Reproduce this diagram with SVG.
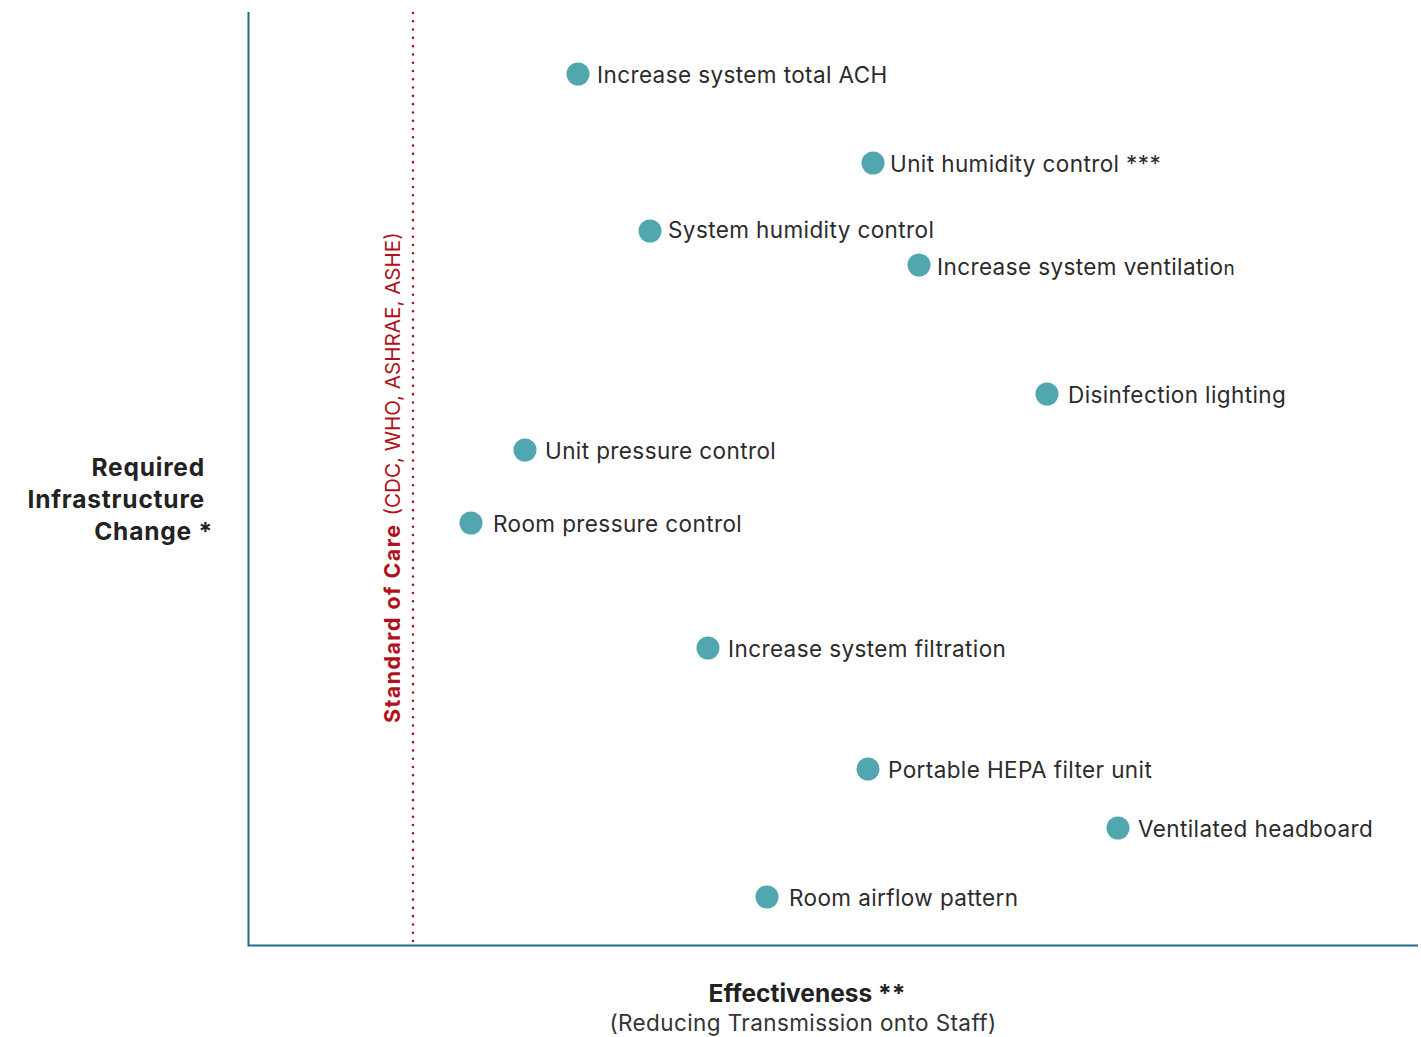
<svg xmlns="http://www.w3.org/2000/svg" width="1421" height="1037" viewBox="0 0 1421 1037">
<style>
.lbl{font-family:Inter,"Noto Sans",sans-serif;font-size:22.5px;letter-spacing:0.4px;fill:#2b2b2b}
.dot{fill:#51a6af}
.axis{stroke:#1f6a8c;stroke-width:2;fill:none}
.ttl{font-family:Inter,"Noto Sans",sans-serif;font-size:24.5px;letter-spacing:0.8px;font-weight:bold;fill:#222}
.sub{font-family:Inter,"Noto Sans",sans-serif;font-size:22.5px;letter-spacing:0.4px;fill:#333}
.soc{font-family:Inter,"Noto Sans",sans-serif;font-size:21.5px;fill:#b0121b}
</style>
<rect width="1421" height="1037" fill="#fff"/>
<g id="connectors">
<path class="axis" d="M248.5 12 V945.5 H1418"/>
<line x1="413" y1="13" x2="413" y2="942" stroke="#b0121b" stroke-width="2.6" stroke-dasharray="0 8.286" stroke-linecap="round"/>
</g>
<g id="soc-label">
<text class="soc" transform="translate(400 723) rotate(-90)"><tspan font-weight="bold" letter-spacing="1.4">Standard of Care</tspan><tspan dx="8" font-size="20.6">(CDC, WHO, ASHRAE, ASHE)</tspan></text>
</g>
<g id="y-title">
<text class="ttl" text-anchor="end" x="205" y="476">Required</text>
<text class="ttl" text-anchor="end" x="205" y="508">Infrastructure</text>
<text class="ttl" text-anchor="end" x="213" y="540">Change *</text>
</g>
<g id="x-title">
<text class="ttl" text-anchor="middle" x="807" y="1002" style="letter-spacing:0">Effectiveness **</text>
<text class="sub" text-anchor="middle" x="803" y="1031">(Reducing Transmission onto Staff)</text>
</g>
<g id="n1"><circle class="dot" cx="578" cy="74" r="11.5"/><text class="lbl" x="597" y="83">Increase system total ACH</text></g>
<g id="n2"><circle class="dot" cx="873" cy="163" r="11.5"/><text class="lbl" x="890" y="172">Unit humidity control ***</text></g>
<g id="n3"><circle class="dot" cx="650" cy="231" r="11.5"/><text class="lbl" x="668" y="238">System humidity control</text></g>
<g id="n4"><circle class="dot" cx="919" cy="265" r="11.5"/><text class="lbl" x="937" y="275">Increase system ventilatio<tspan font-size="19">n</tspan></text></g>
<g id="n5"><circle class="dot" cx="1047" cy="394" r="11.5"/><text class="lbl" x="1068" y="403">Disinfection lighting</text></g>
<g id="n6"><circle class="dot" cx="525" cy="450" r="11.5"/><text class="lbl" x="545" y="459">Unit pressure control</text></g>
<g id="n7"><circle class="dot" cx="471" cy="523" r="11.5"/><text class="lbl" x="493" y="532">Room pressure control</text></g>
<g id="n8"><circle class="dot" cx="708" cy="648" r="11.5"/><text class="lbl" x="728" y="657">Increase system filtration</text></g>
<g id="n9"><circle class="dot" cx="868" cy="769" r="11.5"/><text class="lbl" x="888" y="778">Portable HEPA filter unit</text></g>
<g id="n10"><circle class="dot" cx="1118" cy="828" r="11.5"/><text class="lbl" x="1138" y="837">Ventilated headboard</text></g>
<g id="n11"><circle class="dot" cx="767" cy="897" r="11.5"/><text class="lbl" x="789" y="906">Room airflow pattern</text></g>
</svg>
